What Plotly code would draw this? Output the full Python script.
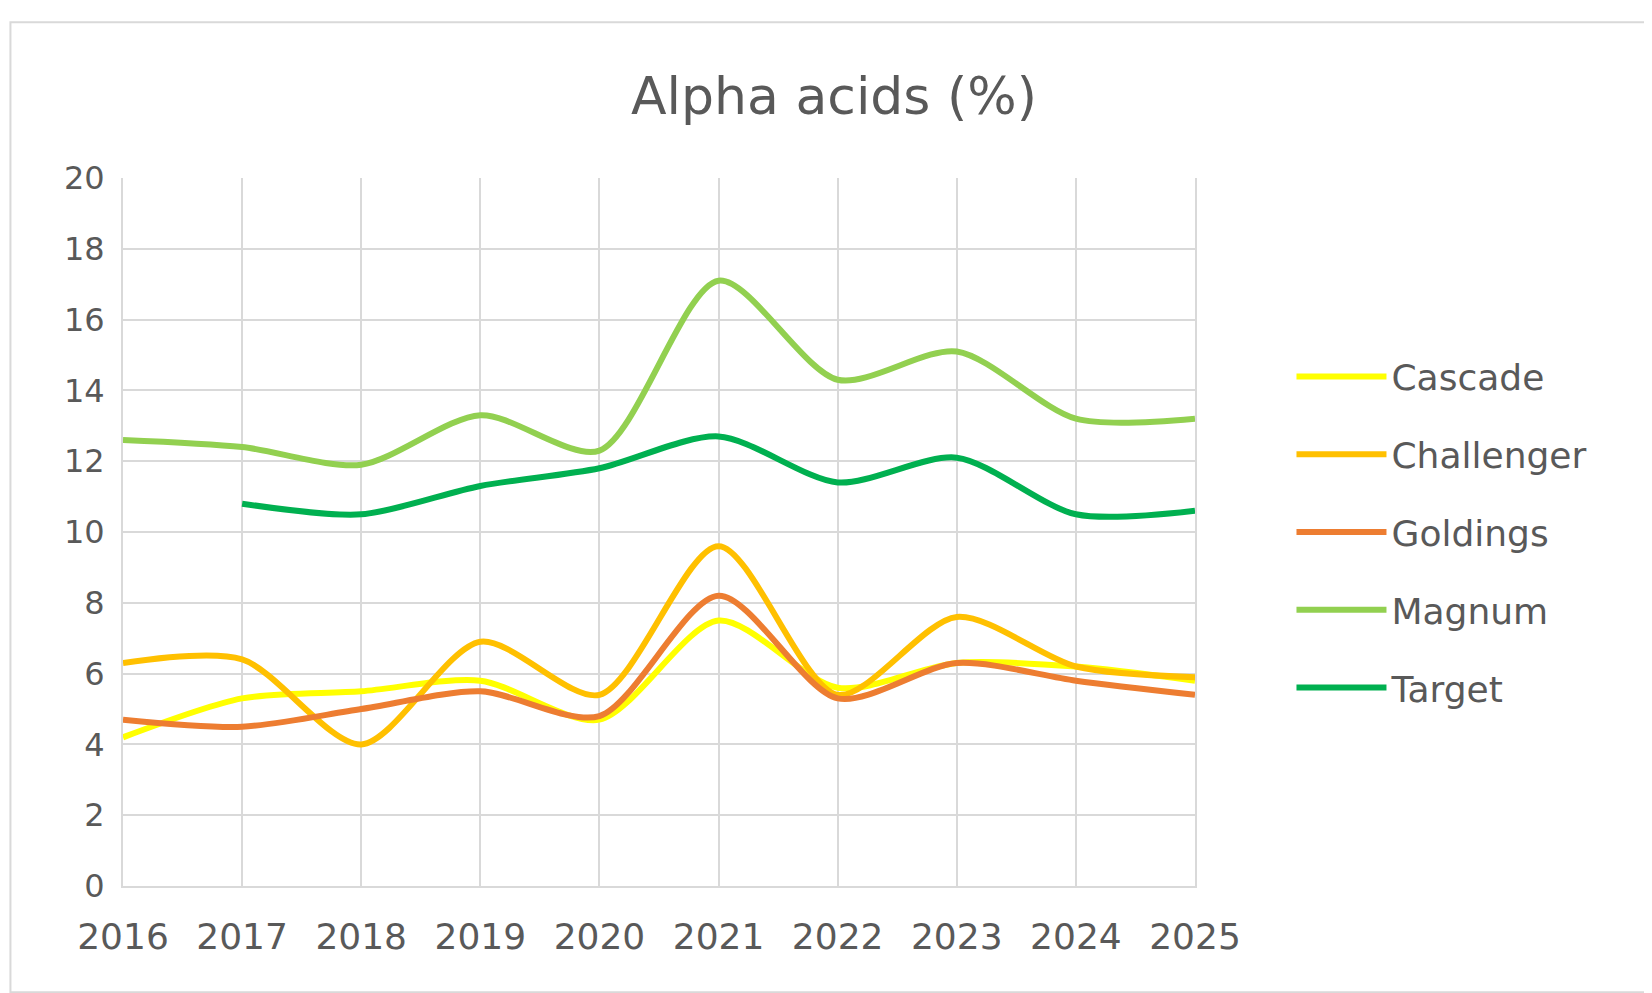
import plotly.graph_objects as go

years = [2016, 2017, 2018, 2019, 2020, 2021, 2022, 2023, 2024, 2025]
cascade = [4.2, 5.3, 5.5, 5.8, 4.7, 7.5, 5.6, 6.3, 6.2, 5.8]
challenger = [6.3, 6.4, 4.0, 6.9, 5.4, 9.6, 5.4, 7.6, 6.2, 5.9]
goldings = [4.7, 4.5, 5.0, 5.5, 4.8, 8.2, 5.3, 6.3, 5.8, 5.4]
magnum = [12.6, 12.4, 11.9, 13.3, 12.3, 17.1, 14.3, 15.1, 13.2, 13.2]
target = [None, 10.8, 10.5, 11.3, 11.8, 12.7, 11.4, 12.1, 10.5, 10.6]

series = [
    ("Cascade", cascade, "#FFFF00"),
    ("Challenger", challenger, "#FFC000"),
    ("Goldings", goldings, "#ED7D31"),
    ("Magnum", magnum, "#92D050"),
    ("Target", target, "#00B050"),
]

fig = go.Figure()
for name, vals, col in series:
    fig.add_trace(go.Scatter(x=years, y=vals, name=name, mode="lines", legendgroup=name,
                             line=dict(color=col, width=6, shape="spline", smoothing=0.8)))

grey = "#595959"
fig.update_layout(
    width=1652, height=993,
    paper_bgcolor="white", plot_bgcolor="white",
    font=dict(family="DejaVu Sans", color=grey, size=34),
    title=dict(text="Alpha acids (%)", x=0.5, xanchor="center", y=0.93,
               font=dict(size=52, color=grey)),
    margin=dict(l=115, r=465, t=170, b=115),
    legend=dict(x=1.09, y=0.5, yanchor="middle", font=dict(size=36, color=grey),
                tracegroupgap=28, itemwidth=90),
)
fig.update_xaxes(range=[2016, 2025], tickvals=years, showgrid=True, gridcolor="#D9D9D9",
                 gridwidth=2, showline=True, linecolor="#D9D9D9", linewidth=2,
                 ticks="outside", ticklen=18, tickcolor="white",
                 tickfont=dict(size=36), zeroline=False)
fig.update_yaxes(range=[0, 20], dtick=2, showgrid=True, gridcolor="#D9D9D9", gridwidth=2,
                 showline=True, linecolor="#D9D9D9", linewidth=2, mirror=True,
                 ticks="outside", ticklen=10, tickcolor="white",
                 tickfont=dict(size=32), zeroline=False)
fig.add_shape(type="rect", xref="paper", yref="paper", x0=-0.105, x1=1.42, y0=-0.15, y1=1.22,
              line=dict(color="#D9D9D9", width=2))
fig.write_html("out.html")
